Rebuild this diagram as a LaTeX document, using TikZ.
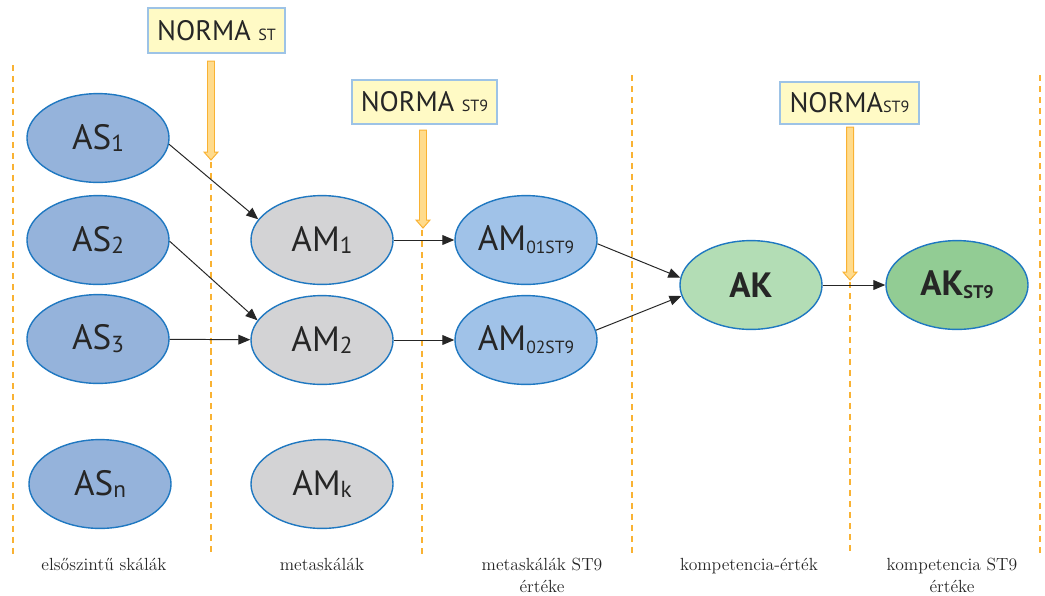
\documentclass[tikz,border=0pt]{standalone}
\usepackage{fontspec}
\newfontfamily\nf{PT Sans}
\usetikzlibrary{arrows.meta,shapes.geometric}
\definecolor{asblue}{HTML}{95B3DB}
\definecolor{amgray}{HTML}{D3D3D5}
\definecolor{amblue}{HTML}{A0C2E8}
\definecolor{akgreen}{HTML}{B3DDB5}
\definecolor{akdark}{HTML}{92CC94}
\definecolor{edgeblue}{HTML}{1F78C1}
\definecolor{boxfill}{HTML}{FFFAC5}
\definecolor{boxedge}{HTML}{9DC3E6}
\definecolor{orangeln}{HTML}{F9B233}
\definecolor{arrfill}{HTML}{FFDB8C}
\newcommand\lo[1]{\raisebox{-2pt}{\fontsize{16.5}{16.5}\selectfont #1}}
\newcommand\los[1]{\raisebox{-2pt}{\fontsize{12.5}{12.5}\selectfont #1}}
\newcommand\lob[1]{\raisebox{-2pt}{\fontsize{13}{13}\selectfont #1}}
\newcommand\nsub[1]{{\fontsize{11.5}{11.5}\selectfont #1}}
\newcommand\fatarrow[3]{\filldraw[fatarr] (#1-3.5,#2) -- (#1+3.5,#2) -- (#1+3.5,#3-8) -- (#1+7,#3-8) -- (#1,#3) -- (#1-7,#3-8) -- (#1-3.5,#3-8) -- cycle;}
\tikzset{
  ell/.style={ellipse, draw=edgeblue, line width=1pt, minimum width=3.55cm, minimum height=2.22cm, inner sep=0pt, text=black!85, font=\nf\fontsize{25}{27}\selectfont},
  normbox/.style={draw=boxedge, fill=boxfill, line width=0.8pt, inner sep=0pt, text=black!85, font=\nf\fontsize{20}{22}\selectfont},
  conn/.style={draw=black!85, line width=0.7pt, -{Triangle[length=8.5pt,width=7pt]}},
  dsh/.style={draw=orangeln, line width=1.3pt, dash pattern=on 4.3pt off 3.5pt},
  fatarr/.style={draw=orangeln, fill=arrfill, line width=0.7pt, line join=miter},
  lbl/.style={anchor=north, inner sep=0pt, align=center, font=\fontsize{12.5}{15.6}\selectfont, text=black!85}
}
\begin{document}
\begin{tikzpicture}[x=0.025cm,y=-0.025cm]
\useasboundingbox (0,0) rectangle (1045,595);
% dashed separators
\foreach \x/\t in {13/65,211/162,422/230,632/75,850/282,1040/75}
  \draw[dsh] (\x,\t) -- (\x,556);
% norm boxes
\node[normbox, minimum width=3.425cm, minimum height=1.125cm] (N1) at (216.5,30.5) {NORMA \nsub{ST}};
\node[normbox, minimum width=3.625cm, minimum height=1.1cm] (N2) at (424.5,102) {NORMA \nsub{ST9}};
\node[normbox, minimum width=3.475cm, minimum height=1.05cm] (N3) at (849.5,103) {NORMA\nsub{ST9}};
\fatarrow{211}{61}{160}
\fatarrow{423}{130}{228}
\fatarrow{850}{127}{280}
% ellipses
\node[ell, fill=asblue] (AS1) at (98,138) {AS\lo{1}};
\node[ell, fill=asblue] (AS2) at (98,240) {AS\lo{2}};
\node[ell, fill=asblue] (AS3) at (98,339) {AS\lo{3}};
\node[ell, fill=asblue] (ASn) at (100,484) {AS\lo{n}};
\node[ell, fill=amgray] (AM1) at (322,240) {AM\lo{1}};
\node[ell, fill=amgray] (AM2) at (322,340) {AM\lo{2}};
\node[ell, fill=amgray] (AMk) at (322,484) {AM\lo{k}};
\node[ell, fill=amblue] (AM01) at (526,240) {AM\los{01ST9}};
\node[ell, fill=amblue] (AM02) at (526,340) {AM\los{02ST9}};
\node[ell, fill=akgreen, font=\nf\bfseries\fontsize{25}{27}\selectfont] (AK) at (751,285) {AK};
\node[ell, fill=akdark, font=\nf\bfseries\fontsize{25}{27}\selectfont] (AKS) at (957,285) {AK\lob{ST9}};
% connectors
\draw[conn] (AS1.-5) -- (AM1.162);
\draw[conn] (AS2.-1) -- (AM2.163);
\draw[conn] (AS3) -- (AM2);
\draw[conn] (AM1.east) -- (AM01.west);
\draw[conn] (AM2.east) -- (AM02.west);
\draw[conn] (AM01.-3) -- (AK.174);
\draw[conn] (AM02.8) -- (AK.189);
\draw[conn] (AK) -- (AKS);
% bottom labels
\node[lbl] (L1) at (104,558) {elsőszintű skálák};
\node[lbl] (L2) at (322,558) {metaskálák};
\node[lbl] (L3) at (542,558) {metaskálák ST9\\értéke};
\node[lbl] (L4) at (749,558) {kompetencia-érték};
\node[lbl] (L5) at (952,558) {kompetencia ST9\\értéke};
\end{tikzpicture}
\end{document}
